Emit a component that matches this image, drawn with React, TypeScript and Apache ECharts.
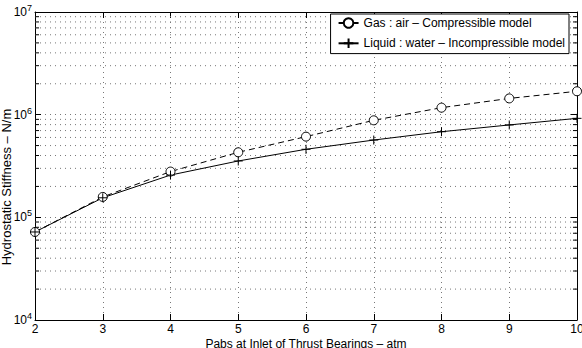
import React, { useEffect, useRef } from "react";
import * as echarts from "echarts";

const pressures = [2, 3, 4, 5, 6, 7, 8, 9, 10];
const gasStiffness = [72000, 158000, 279000, 430000, 611000, 881000, 1170000, 1440000, 1690000];
const liquidStiffness = [72000, 155000, 258000, 354000, 460000, 566000, 682000, 794000, 921000];
const minorGridValues = [
  20000, 30000, 40000, 50000, 60000, 70000, 80000, 90000,
  200000, 300000, 400000, 500000, 600000, 700000, 800000, 900000,
  2000000, 3000000, 4000000, 5000000, 6000000, 7000000, 8000000, 9000000,
];
const gasName = "Gas : air \u2013 Compressible model";
const liquidName = "Liquid : water \u2013 Incompressible model";
const xTitle = "Pabs at Inlet of Thrust Bearings \u2013 atm";
const yTitle = "Hydrostatic Stiffness \u2013 N/m";

const FONT = "'Liberation Sans', Arial, Helvetica, sans-serif";

export default function App() {
  const ref = useRef<HTMLDivElement>(null);
  useEffect(() => {
    if (!ref.current) return;
    const chart = echarts.init(ref.current, null, { renderer: "svg" });
    const xMin = 2;
    const dotted = { color: "#777", width: 1, type: [1, 4] as any };
    const option: any = {
      animation: false,
      backgroundColor: "#fff",
      textStyle: { fontFamily: FONT, color: "#000" },
      grid: { left: 35, right: 5, top: 12, bottom: 28, containLabel: false, outerBoundsMode: "none" },
      legend: {
        data: [gasName, liquidName],
        orient: "vertical",
        right: 13,
        top: 14,
        backgroundColor: "#fff",
        borderColor: "#000",
        borderWidth: 1,
        borderRadius: 0,
        padding: [3, 4, 3, 7],
        itemGap: 7,
        itemWidth: 20,
        itemHeight: 12,
        textStyle: { fontFamily: FONT, fontSize: 12, color: "#000" },
        lineStyle: { type: "solid" },
      },
      xAxis: [
        {
          type: "value",
          min: 2,
          max: 10,
          interval: 1,
          name: xTitle,
          nameLocation: "middle",
          nameGap: 18,
          nameMoveOverlap: false,
          nameTextStyle: { fontFamily: FONT, fontSize: 12, lineHeight: 12, color: "#000", verticalAlign: "top" },
          axisLine: { show: true, onZero: false, lineStyle: { color: "#000", width: 1 } },
          axisTick: { show: true, inside: true, length: 6, lineStyle: { color: "#000" } },
          axisLabel: { fontFamily: FONT, fontSize: 12, lineHeight: 12, color: "#000", margin: 3 },
          splitLine: { show: true, lineStyle: dotted },
        },
        {
          type: "value",
          position: "top",
          min: 2,
          max: 10,
          interval: 1,
          axisLine: { show: true, onZero: false, lineStyle: { color: "#000", width: 1 } },
          axisTick: { show: true, inside: true, length: 6, lineStyle: { color: "#000" } },
          axisLabel: { show: false },
          splitLine: { show: false },
        },
      ],
      yAxis: [
        {
          type: "log",
          logBase: 10,
          min: 10000,
          max: 10000000,
          axisLine: { show: true, onZero: false, lineStyle: { color: "#000", width: 1 } },
          axisTick: { show: true, inside: true, length: 6, lineStyle: { color: "#000" } },
          axisLabel: {
            margin: 3,
            formatter: (v: number) => `{b|10}{e|${Math.round(Math.log10(v))}}`,
            rich: {
              b: { fontFamily: FONT, fontSize: 12, color: "#000" },
              e: { fontFamily: FONT, fontSize: 9, color: "#000", padding: [0, 0, 8, 0] },
            },
          },
          splitLine: { show: true, lineStyle: dotted },
        },
        {
          type: "log",
          logBase: 10,
          position: "right",
          min: 10000,
          max: 10000000,
          axisLine: { show: true, onZero: false, lineStyle: { color: "#000", width: 1 } },
          axisTick: { show: true, inside: true, length: 6, lineStyle: { color: "#000" } },
          axisLabel: { show: false },
          splitLine: { show: false },
        },
      ],
      graphic: [
        {
          type: "text",
          x: 6,
          y: 187,
          rotation: Math.PI / 2,
          style: {
            text: yTitle,
            fontFamily: FONT,
            fontSize: 13,
            fill: "#000",
            align: "center",
            verticalAlign: "middle",
          },
        },
      ],
      series: [
        {
          type: "custom",
          name: "minorGrid",
          silent: true,
          xAxisIndex: 0,
          yAxisIndex: 0,
          z: 1,
          data: minorGridValues.map((v) => [xMin, v]),
          renderItem: (params: any, api: any) => {
            const cs = params.coordSys;
            const y = api.coord([api.value(0), api.value(1)])[1];
            const l = cs.x;
            const r = cs.x + cs.width;
            return {
              type: "group",
              children: [
                {
                  type: "line",
                  shape: { x1: l, y1: y, x2: r, y2: y },
                  style: { stroke: "#777", lineWidth: 1, lineDash: [1, 4] },
                },
                {
                  type: "line",
                  shape: { x1: l, y1: y, x2: l + 4, y2: y },
                  style: { stroke: "#000", lineWidth: 1 },
                },
                {
                  type: "line",
                  shape: { x1: r - 4, y1: y, x2: r, y2: y },
                  style: { stroke: "#000", lineWidth: 1 },
                },
              ],
            };
          },
        },
        {
          type: "line",
          name: gasName,
          data: pressures.map((p, i) => [p, gasStiffness[i]]),
          symbol: "circle",
          symbolSize: 9,
          showSymbol: true,
          z: 3,
          lineStyle: { color: "#000", width: 1, type: [6, 4] },
          itemStyle: { color: "#fff", borderColor: "#000", borderWidth: 1 },
        },
        {
          type: "line",
          name: liquidName,
          data: pressures.map((p, i) => [p, liquidStiffness[i]]),
          symbol: "path://M5,0L5,10M0,5L10,5",
          symbolSize: 9,
          showSymbol: true,
          z: 3,
          lineStyle: { color: "#000", width: 1, type: "solid" },
          itemStyle: { color: "none", borderColor: "#000", borderWidth: 1 },
        },
      ],
    };
    chart.setOption(option);
    return () => chart.dispose();
  }, []);
  return <div ref={ref} style={{ width: 582, height: 348, position: "absolute", left: 0, top: 0 }} />;
}
